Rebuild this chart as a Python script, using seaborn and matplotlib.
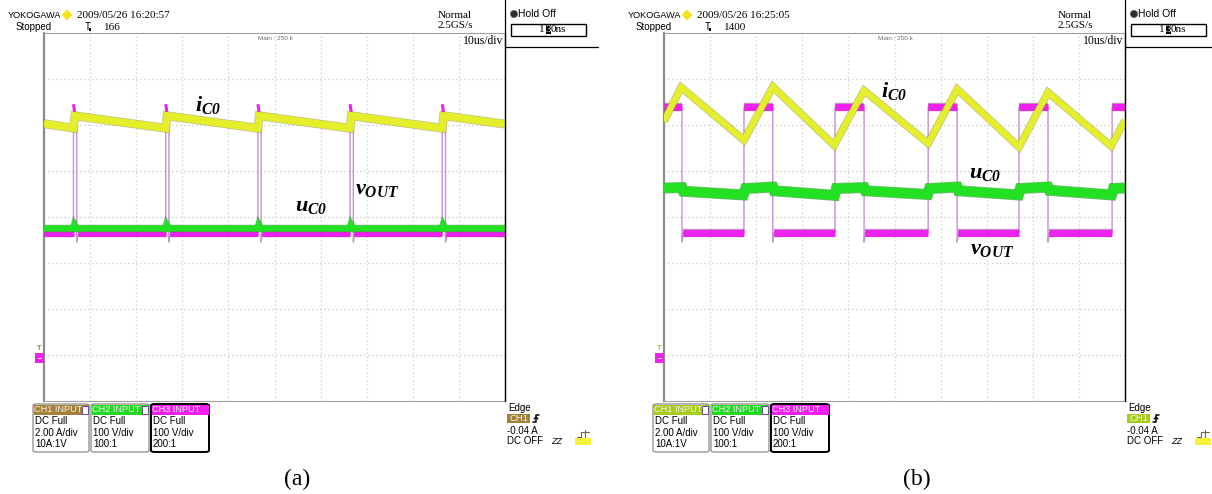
import numpy as np
import pandas as pd
import matplotlib
matplotlib.use("Agg")
import matplotlib.pyplot as plt
import matplotlib.patheffects as pe
from matplotlib.patches import Rectangle, FancyBboxPatch, Ellipse, Polygon
from matplotlib.lines import Line2D
import seaborn as sns

W, H = 1212, 494

# ---------------- data (oscilloscope divisions: x 0..10, y -4..4) ----------------
# panel (a)
a_pulse_rise = [0.64, 2.64, 4.64, 6.64, 8.64]
a_pulse_width = 0.07
a_vout_low = -0.38
a_vout_peak = 2.45
a_vout_top = 2.15
a_ic_start = 2.03
a_ic_before = 1.93
a_ic_after = 2.20
a_ic_end = 2.02
a_uc_level = -0.25
a_uc_bump = -0.18

# panel (b)
b_vout_fall = [0.39, 2.36, 4.34, 6.36, 8.33]
b_vout_rise = [1.735, 3.71, 5.73, 7.70, 9.72]
b_vout_high = 2.39
b_vout_low = -0.35
b_ic_t = [0.0, 0.37, 1.735, 2.36, 3.69, 4.34, 5.73, 6.36, 7.70, 8.33, 9.70, 10.0]
b_ic_v = [2.08, 2.82, 1.67, 2.83, 1.56, 2.75, 1.60, 2.78, 1.52, 2.71, 1.54, 2.10]
b_uc_t = [0.0, 0.39, 0.42, 1.72, 1.77, 2.36, 2.39, 3.70, 3.74, 4.34, 4.37, 5.72,
          5.76, 6.36, 6.39, 7.69, 7.73, 8.33, 8.36, 9.71, 9.75, 10.0]
b_uc_v = [0.63, 0.64, 0.56, 0.48, 0.62, 0.65, 0.57, 0.47, 0.62, 0.64, 0.57, 0.49,
          0.62, 0.65, 0.57, 0.48, 0.62, 0.65, 0.58, 0.48, 0.62, 0.63]

# texts
dates = ["2009/05/26 16:20:57", "2009/05/26 16:25:05"]
counts = ["166", "1400"]
captions = ["(a)", "(b)"]
ch_headers = ["CH1 INPUT", "CH2 INPUT", "CH3 INPUT"]
ch_lines = [["DC Full", "2.00 A/div", "10A:1V"],
            ["DC Full", "100 V/div", "100:1"],
            ["DC Full", "100 V/div", "200:1"]]

YEL, YEL_D = "#E4EE2A", "#8A8C2C"
GRN, GRN_D = "#22E022", "#1E7A1E"
MAG, MAG_D = "#EE22EE", "#9A2C9A"
LIL = "#C690D4"
CH1_COL = ["#A58038", "#A8CC1C"]
CH2_COL = "#22D822"
CH3_COL = "#F020F0"

sns.set_style("white")
plt.rcParams["font.family"] = ["Liberation Sans", "DejaVu Sans"]
plt.rcParams["mathtext.fontset"] = "custom"
plt.rcParams["mathtext.rm"] = "Liberation Serif:italic:bold"
plt.rcParams["mathtext.it"] = "Liberation Serif:italic:bold"
plt.rcParams["mathtext.bf"] = "Liberation Serif:italic:bold"

fig = plt.figure(figsize=(W / 100, H / 100), dpi=100)
fig.patch.set_facecolor("white")


def fx(px):
    return px / W


def fy(py):
    return 1 - py / H


def ftext(x, y, s, size=7, family="sans", color="black", ha="left", va="center", **kw):
    fam = ["Liberation Serif"] if family == "serif" else ["Liberation Sans", "DejaVu Sans"]
    return fig.text(fx(x), fy(y), s, fontsize=size, family=fam, color=color,
                    ha=ha, va=va, **kw)


def frect(x0, y0, x1, y1, **kw):
    r = Rectangle((fx(x0), fy(y1)), fx(x1) - fx(x0), fy(y0) - fy(y1),
                  transform=fig.transFigure, **kw)
    fig.patches.append(r)
    return r


def fline(xs, ys, **kw):
    fig.lines.append(Line2D([fx(x) for x in xs], [fy(y) for y in ys],
                            transform=fig.transFigure, **kw))


def outline(lw, dark):
    return [pe.Stroke(linewidth=lw + 1.0, foreground=dark, alpha=0.55), pe.Normal()]


def draw_segments(ax, segs, color, lw, dark=None, z=3):
    t, v, u = [], [], []
    for i, (pts_t, pts_v) in enumerate(segs):
        t += list(pts_t)
        v += list(pts_v)
        u += [i] * len(pts_t)
    df = pd.DataFrame({"t": t, "v": v, "seg": u})
    kw = {}
    if dark is not None:
        kw["path_effects"] = outline(lw, dark)
    sns.lineplot(data=df, x="t", y="v", units="seg", estimator=None, sort=False,
                 color=color, linewidth=lw, legend=False, ax=ax, zorder=z,
                 solid_joinstyle="miter", solid_capstyle="butt", **kw)


def scope_axes(ox):
    ax = fig.add_axes([fx(44 + ox), fy(401), fx(461), 368 / H])
    ax.set_xlim(0, 10)
    ax.set_ylim(-4, 4)
    ax.set_xticks([])
    ax.set_yticks([])
    ax.set_facecolor("white")
    for k in range(1, 10):
        ax.axvline(k, color="#A8A8A8", lw=0.9, ls=(0, (0.6, 2.6)), zorder=1)
    for j in range(-3, 4):
        ax.axhline(j, color="#A8A8A8", lw=0.9, ls=(0, (0.6, 2.6)), zorder=1)
    ax.spines["top"].set_color("#A0A0A0")
    ax.spines["top"].set_linewidth(0.8)
    ax.spines["bottom"].set_color("#A0A0A0")
    ax.spines["bottom"].set_linewidth(0.8)
    ax.spines["left"].set_color("#8C8C8C")
    ax.spines["left"].set_linewidth(1.6)
    ax.spines["right"].set_color("black")
    ax.spines["right"].set_linewidth(0.9)
    return ax


# ---------------- panel (a) ----------------
axa = scope_axes(0)
vt, vv = [0.0], [a_vout_low]
for r in a_pulse_rise:
    f = r + a_pulse_width
    vt += [r, r, r + 0.03, f, f, f + 0.02]
    vv += [a_vout_low, a_vout_peak, a_vout_top + 0.1, a_vout_top, a_vout_low - 0.17, a_vout_low]
vt += [10.0]
vv += [a_vout_low]
draw_segments(axa, [(vt, vv)], LIL, 1.0, z=2)
flats = []
starts = [0.0] + [r + a_pulse_width + 0.02 for r in a_pulse_rise]
ends = a_pulse_rise + [10.0]
for s, e in zip(starts, ends):
    flats.append(([s, e], [a_vout_low, a_vout_low]))
draw_segments(axa, flats, MAG, 3.6, MAG_D, z=3)
tops = [([r, r + 0.03, r + a_pulse_width], [a_vout_peak, a_vout_top + 0.1, a_vout_top])
        for r in a_pulse_rise]
draw_segments(axa, tops, MAG, 2.2, z=3)
gt, gv = [0.0], [a_uc_level]
for r in a_pulse_rise:
    gt += [r, r + 0.02, r + 0.06]
    gv += [a_uc_level, a_uc_bump, a_uc_level]
gt += [10.0]
gv += [a_uc_level]
draw_segments(axa, [(gt, gv)], GRN, 4.4, GRN_D, z=4)
yt, yv = [0.0], [a_ic_start]
for r in a_pulse_rise:
    yt += [r, r + 0.03]
    yv += [a_ic_before, a_ic_after]
yt += [10.0]
yv += [a_ic_end]
draw_segments(axa, [(yt, yv)], YEL, 5.4, YEL_D, z=5)

# ---------------- panel (b) ----------------
axb = scope_axes(620)
mt, mv = [0.0], [b_vout_high]
for f, r in zip(b_vout_fall, b_vout_rise):
    mt += [f, f, f + 0.02, r, r]
    mv += [b_vout_high, b_vout_low - 0.2, b_vout_low, b_vout_low, b_vout_high]
mt += [10.0]
mv += [b_vout_high]
draw_segments(axb, [(mt, mv)], LIL, 1.0, z=2)
segs = []
hs = [0.0] + b_vout_rise
he = b_vout_fall + [10.0]
for s, e in zip(hs, he):
    segs.append(([s, e], [b_vout_high, b_vout_high]))
for s, e in zip(b_vout_fall, b_vout_rise):
    segs.append(([s + 0.02, e], [b_vout_low, b_vout_low]))
draw_segments(axb, segs, MAG, 5.0, MAG_D, z=3)
draw_segments(axb, [(b_uc_t, b_uc_v)], GRN, 7.0, GRN_D, z=4)
draw_segments(axb, [(b_ic_t, b_ic_v)], YEL, 4.6, YEL_D, z=5)

for ax in (axa, axb):
    ax.set_xlim(0, 10)
    ax.set_ylim(-4, 4)
    ax.set_xlabel("")
    ax.set_ylabel("")

# ---------------- trace labels ----------------
lab_kw = dict(fontsize=16, ha="left", va="baseline", color="black")
fig.text(fx(195), fy(111), r"$i_{C0}$", **lab_kw)
fig.text(fx(295), fy(211), r"$u_{C0}$", **lab_kw)
fig.text(fx(355), fy(194), r"$v_{OUT}$", **lab_kw)
fig.text(fx(881), fy(97), r"$i_{C0}$", **lab_kw)
fig.text(fx(969), fy(178), r"$u_{C0}$", **lab_kw)
fig.text(fx(970), fy(254), r"$v_{OUT}$", **lab_kw)

# ---------------- scope chrome ----------------
for p, ox in enumerate([0, 620]):
    ftext(8 + ox, 15, "YOKOGAWA", size=6.6)
    fig.patches.append(Polygon([(fx(67 + ox), fy(9.5)), (fx(72.5 + ox), fy(15)),
                                (fx(67 + ox), fy(20.5)), (fx(61.5 + ox), fy(15))],
                               closed=True, transform=fig.transFigure,
                               facecolor="#F6E21C", edgecolor="none"))
    ftext(77 + ox, 15, dates[p], size=8, family="serif")
    ftext(16 + ox, 27, "Stopped", size=7)
    ftext(85 + ox, 27, "T", size=7)
    frect(89 + ox, 28, 91 + ox, 31, facecolor="black", edgecolor="none")
    ftext(104 + ox, 27, counts[p], size=8, family="serif")
    ftext(438 + ox, 15, "Normal", size=8, family="serif")
    ftext(438 + ox, 26, "2.5GS/s", size=8, family="serif")
    ftext(275 + ox, 38.5, "Main : 250 k", size=4.6, color="#6E6E6E", ha="center")
    ftext(503 + ox, 41, "10us/div", size=8.5, family="serif", ha="right")
    fline([505 + ox, 505 + ox], [0, 401], color="black", lw=0.9)
    fline([505 + ox, min(598 + ox, W)], [47, 47], color="black", lw=0.9)
    fig.patches.append(Ellipse((fx(514 + ox), fy(14)), 7.5 / W, 7.5 / H,
                               transform=fig.transFigure,
                               facecolor="#2E2E2E", edgecolor="#808080", lw=0.5))
    ftext(518.5 + ox, 14, "Hold Off", size=7.5)
    frect(511 + ox, 24, 586 + ox, 36, facecolor="white", edgecolor="black", lw=1.0)
    ftext(545 + ox, 30, "1", size=8, family="serif", ha="right")
    frect(545.5 + ox, 25.5, 551 + ox, 34.5, facecolor="black", edgecolor="none")
    ftext(548.3 + ox, 30, "3", size=8, family="serif", ha="center", color="white")
    ftext(551 + ox, 30, "0ns", size=8, family="serif")

    # left ground markers
    ftext(39.5 + ox, 348.5, "T", size=5.5, ha="center", color=CH1_COL[p], weight="bold")
    frect(35 + ox, 353, 44 + ox, 363, facecolor=CH3_COL, edgecolor="none")
    fline([38 + ox, 41 + ox], [358, 358], color="white", lw=0.6)

    # channel boxes
    boxes = [(33, 89), (91, 149), (151, 209)]
    heads = [CH1_COL[p], CH2_COL, CH3_COL]
    for k, (x0, x1) in enumerate(boxes):
        sel = (k == 2)
        bb = FancyBboxPatch((fx(x0 + ox), fy(452)), fx(x1 - x0), (452 - 404) / H,
                            boxstyle="round,pad=0,rounding_size=0.003",
                            transform=fig.transFigure, facecolor="white",
                            edgecolor="black" if sel else "#8A8A8A",
                            lw=1.4 if sel else 0.9)
        fig.patches.append(bb)
        frect(x0 + ox + 0.5, 404.5, x1 + ox - 0.5, 414.5, facecolor=heads[k], edgecolor="none")
        ftext(x0 + 1.5 + ox, 409.5, ch_headers[k], size=6.6, color="#F4F4F4")
        if not sel:
            frect(x1 - 7 + ox, 405.5, x1 - 1.5 + ox, 413.5, facecolor="white",
                  edgecolor="#6A4A8A", lw=0.7)
        for j, s in enumerate(ch_lines[k]):
            ftext(x0 + 2 + ox, 421 + 11.5 * j, s, size=7)

    ftext(508 + ox, 408, "Edge", size=7)
    frect(507 + ox, 414, 530 + ox, 423, facecolor=CH1_COL[p], edgecolor="none")
    ftext(518.5 + ox, 418.8, "CH1", size=6.8, color="#F4F4F4", ha="center")
    fline([533 + ox, 536 + ox, 536 + ox, 539 + ox], [422, 422, 414.5, 414.5], color="black", lw=1.1)
    fline([534 + ox, 536 + ox, 538 + ox], [419, 417, 419], color="black", lw=0.9)
    ftext(507 + ox, 431, "-0.04 A", size=7)
    ftext(507 + ox, 441, "DC OFF", size=7)
    ftext(551 + ox, 441, "ZZ", size=6.5, style="italic")
    frect(575 + ox, 438, 591 + ox, 445, facecolor="#F4F23A", edgecolor="none")
    fline([577 + ox, 581 + ox, 581 + ox, 589 + ox], [437, 437, 432, 432], color="#6A6A50", lw=0.8)
    fline([585 + ox, 585 + ox], [430, 437], color="#6A6A50", lw=0.8)

    ftext(297 + ox, 479, captions[p], size=17, family="serif", ha="center")

fig.savefig("out.png", dpi=100, facecolor="white")
